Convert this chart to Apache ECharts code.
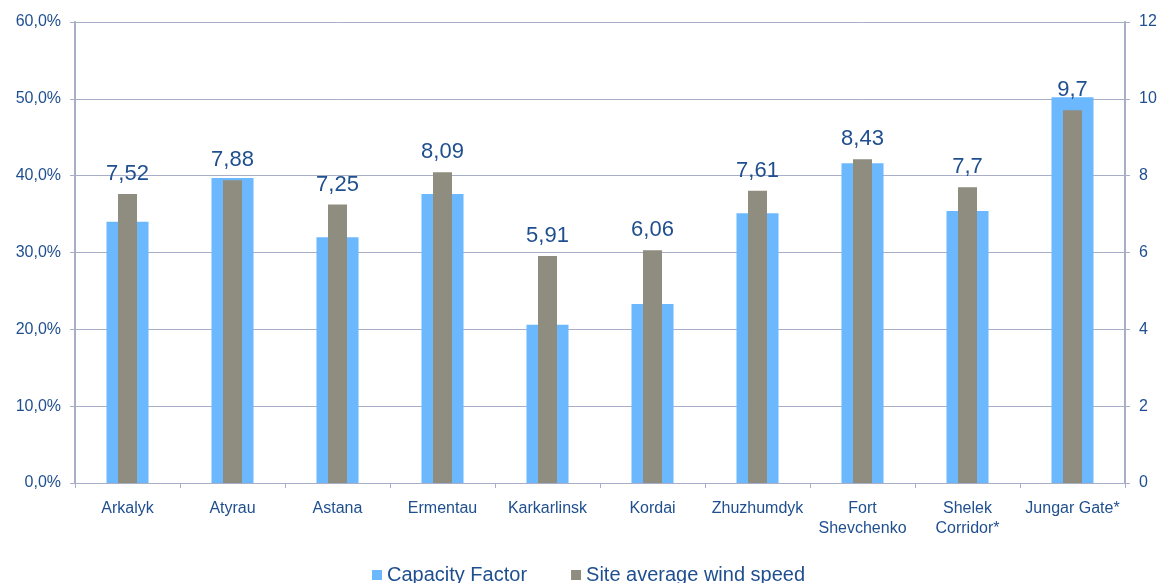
<!DOCTYPE html>
<html>
<head>
<meta charset="utf-8">
<script src="https://cdn.jsdelivr.net/npm/echarts@6/dist/echarts.min.js"></script>
<style>
  html, body { margin: 0; padding: 0; background: #ffffff; }
  #chart { width: 1163px; height: 583px; }
</style>
</head>
<body>
<div id="chart"></div>
<script>
// Wind sites in Kazakhstan
const sites = ['Arkalyk', 'Atyrau', 'Astana', 'Ermentau', 'Karkarlinsk', 'Kordai',
  'Zhuzhumdyk', 'Fort\nShevchenko', 'Shelek\nCorridor*', 'Jungar Gate*'];
// Capacity factor, percent
const capacityFactor = [34.0, 39.7, 32.0, 37.6, 20.6, 23.3, 35.1, 41.6, 35.4, 50.2];
// Site average wind speed, m/s
const windSpeed = [7.52, 7.88, 7.25, 8.09, 5.91, 6.06, 7.61, 8.43, 7.7, 9.7];
// Axis ranges
const leftAxisTicks = [0, 10, 20, 30, 40, 50, 60];
const rightAxisTicks = [0, 2, 4, 6, 8, 10, 12];

const textBlue = '#1f4f8f';
const gridColor = '#a9aec8';
const fontFamily = '"Liberation Sans", Arial, sans-serif';

const comma = (v, digits) => (digits == null ? String(v) : v.toFixed(digits)).replace('.', ',');

const chart = echarts.init(document.getElementById('chart'));
chart.setOption({
  animation: false,
  textStyle: { fontFamily: fontFamily },
  grid: { left: 75, right: 38, top: 22, bottom: 100 },
  legend: {
    bottom: -7,
    left: 367,
    itemWidth: 10,
    itemHeight: 10,
    itemGap: 44,
    icon: 'rect',
    textStyle: { color: textBlue, fontSize: 20, fontFamily: fontFamily },
    data: ['Capacity Factor', 'Site average wind speed']
  },
  xAxis: [
    {
      type: 'category',
      data: sites,
      axisLine: { lineStyle: { color: gridColor, width: 1 } },
      axisTick: { show: true, length: 5, lineStyle: { color: gridColor } },
      axisLabel: { color: textBlue, fontSize: 16, lineHeight: 20, margin: 16, interval: 0 },
      splitLine: { show: false }
    },
    {
      type: 'category',
      data: sites,
      show: false
    }
  ],
  yAxis: [
    {
      type: 'value',
      min: leftAxisTicks[0],
      max: leftAxisTicks[leftAxisTicks.length - 1],
      interval: leftAxisTicks[1] - leftAxisTicks[0],
      position: 'left',
      axisLine: { show: true, lineStyle: { color: gridColor, width: 2 } },
      axisTick: { show: true, length: 5, lineStyle: { color: gridColor } },
      axisLabel: { color: textBlue, fontSize: 16, margin: 14, formatter: v => comma(v, 1) + '%' },
      splitLine: { show: true, lineStyle: { color: gridColor, width: 1 } }
    },
    {
      type: 'value',
      min: rightAxisTicks[0],
      max: rightAxisTicks[rightAxisTicks.length - 1],
      interval: rightAxisTicks[1] - rightAxisTicks[0],
      position: 'right',
      axisLine: { show: true, lineStyle: { color: gridColor, width: 2 } },
      axisTick: { show: true, length: 5, lineStyle: { color: gridColor } },
      axisLabel: { color: textBlue, fontSize: 16, margin: 14 },
      splitLine: { show: false }
    }
  ],
  series: [
    {
      name: 'Capacity Factor',
      type: 'bar',
      xAxisIndex: 0,
      yAxisIndex: 0,
      data: capacityFactor,
      barWidth: 42,
      itemStyle: { color: '#6bb8ff' },
      z: 2
    },
    {
      name: 'Site average wind speed',
      type: 'bar',
      xAxisIndex: 1,
      yAxisIndex: 1,
      data: windSpeed,
      barWidth: 19,
      itemStyle: { color: '#8f8d7f' },
      label: {
        show: true,
        position: 'top',
        distance: 9,
        color: textBlue,
        fontSize: 22,
        formatter: p => comma(p.value)
      },
      z: 3
    }
  ]
});
</script>
</body>
</html>
